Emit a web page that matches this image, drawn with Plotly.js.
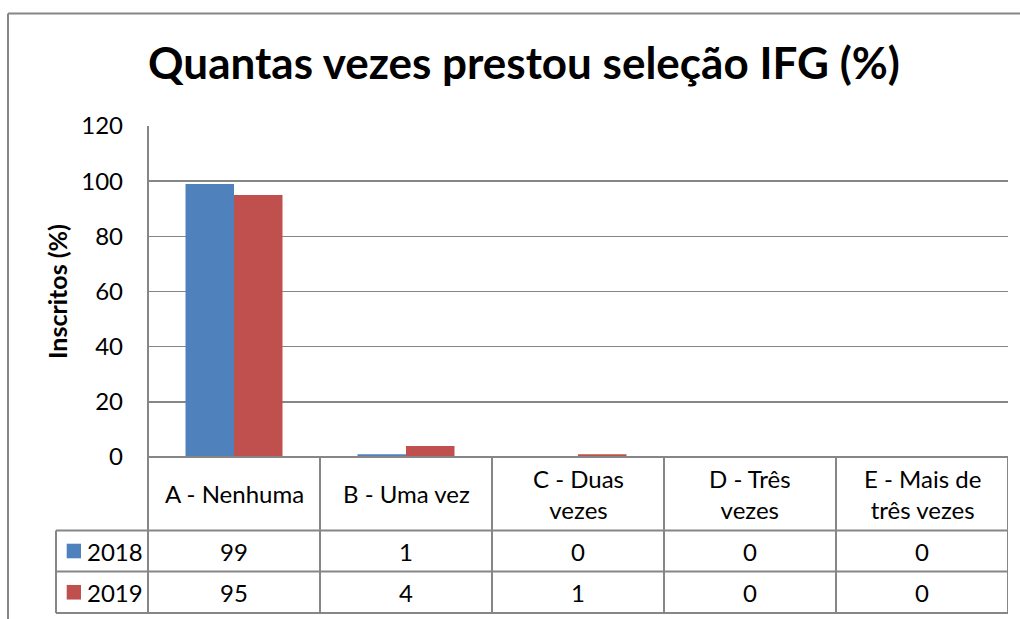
<!DOCTYPE html>
<html>
<head>
<meta charset="utf-8">
<script src="https://cdn.plot.ly/plotly-3.0.1.min.js"></script>
<style>html,body{margin:0;padding:0;background:#fff;}#chart{width:1020px;height:619px;}</style>
</head>
<body>
<div id="chart"></div>
<script>
const categories = ['A - Nenhuma', 'B - Uma vez', 'C - Duas<br>vezes', 'D - Três<br>vezes', 'E - Mais de<br>três vezes'];
const seriesNames = ['2018', '2019'];
const values2018 = [99, 1, 0, 0, 0];
const values2019 = [95, 4, 1, 0, 0];
const seriesColors = ['#4F81BD', '#C0504D'];
const yTicks = [0, 20, 40, 60, 80, 100, 120];

const allSeries = [values2018, values2019];
const FONT = 'Lato, "Open Sans", sans-serif';
const grey = '#868686';
const TXT = 24;

// pixel -> paper helpers (plot area 148..1008 x 126..457)
const L = 148, R = 1008, T = 126, B = 457;
const px = v => (v - L) / (R - L);
const py = v => (B - v) / (B - T);

const idx = categories.map((c, i) => i);

const traces = allSeries.map((vals, s) => ({
  type: 'bar',
  name: seriesNames[s],
  x: idx,
  y: vals,
  marker: {color: seriesColors[s], line: {width: 0}},
  hoverinfo: 'x+y+name'
}));

const shapes = [];
const annotations = [];
const line = (x0, y0, x1, y1, xref, w) => shapes.push({type: 'line', xref: xref || 'paper', yref: 'paper', x0, y0, x1, y1, line: {color: grey, width: w || 2}});

// outer frame
line(px(8), py(13.5), px(1030), py(13.5), 'paper', 2);
line(px(8), py(13.5), px(8), py(630), 'paper', 2);

// table rows
const rowTop = [457, 530.5, 571.5, 613];
line(px(L), py(rowTop[0]), px(R), py(rowTop[0]));
for (let r = 1; r < rowTop.length; r++) line(px(56), py(rowTop[r]), px(R), py(rowTop[r]));
// left edge of legend column
line(px(56), py(rowTop[1]), px(56), py(rowTop[3]));
// y-axis / first column line
line(px(L), py(T), px(L), py(rowTop[3]));
// category boundaries
for (let i = 0; i <= categories.length; i++) {
  line(i - 0.5, py(rowTop[0]), i - 0.5, py(rowTop[3]), 'x');
}

// header labels
categories.forEach((c, i) => {
  annotations.push({xref: 'x', yref: 'paper', x: i, y: py((rowTop[0] + rowTop[1]) / 2), text: c, showarrow: false,
    xanchor: 'center', yanchor: 'middle', font: {family: FONT, size: TXT, color: '#000'}});
});

// data rows
allSeries.forEach((vals, s) => {
  const yc = (rowTop[s + 1] + rowTop[s + 2]) / 2;
  vals.forEach((v, i) => {
    annotations.push({xref: 'x', yref: 'paper', x: i, y: py(yc), text: String(v), showarrow: false,
      xanchor: 'center', yanchor: 'middle', font: {family: FONT, size: TXT, color: '#000'}});
  });
  shapes.push({type: 'rect', xref: 'paper', yref: 'paper', x0: px(66.7), x1: px(81), y0: py(yc - 7.3), y1: py(yc + 7.3),
    fillcolor: seriesColors[s], line: {width: 0}});
  annotations.push({xref: 'paper', yref: 'paper', x: px(85), y: py(yc), text: seriesNames[s], showarrow: false,
    xanchor: 'left', yanchor: 'middle', font: {family: FONT, size: TXT, color: '#000'}});
});

const layout = {
  width: 1020, height: 619,
  margin: {l: L, r: 1020 - R, t: T, b: 619 - B, pad: 0},
  paper_bgcolor: '#fff', plot_bgcolor: '#fff',
  showlegend: false,
  barmode: 'group', bargap: 0.436, bargroupgap: 0,
  title: {text: 'Quantas vezes prestou seleção IFG (%)', x: 524 / 1020, xanchor: 'center', xref: 'container',
    y: 1 - 64 / 619, yanchor: 'middle', yref: 'container',
    font: {family: FONT, size: 44, color: '#000', weight: 'bold'}},
  xaxis: {range: [-0.5, categories.length - 0.5], showticklabels: false, ticks: '', showgrid: false, zeroline: false,
    showline: false, fixedrange: true},
  yaxis: {range: [0, 120], tickvals: yTicks, ticktext: yTicks.map(String), showgrid: true, gridcolor: grey, gridwidth: 1.5,
    zeroline: false, showline: false, ticks: '', ticklabelstandoff: 24,
    tickfont: {family: FONT, size: TXT, color: '#000'},
    title: {text: 'Inscritos (%)', standoff: 6, font: {family: FONT, size: 25, color: '#000', weight: 'bold'}}},
  shapes, annotations,
  font: {family: FONT}
};

Plotly.newPlot('chart', traces, layout, {displayModeBar: false, staticPlot: true});
</script>
</body>
</html>
